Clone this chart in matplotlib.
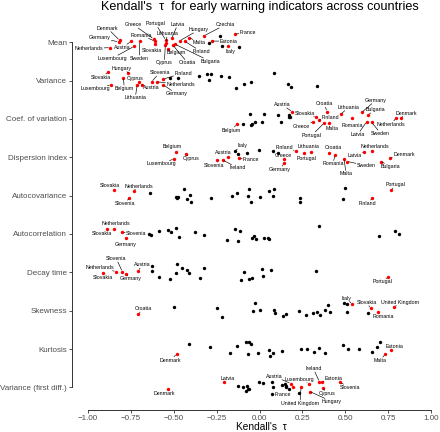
import matplotlib.pyplot as plt
import numpy as np

plt.rcParams['font.family'] = ['Liberation Sans', 'DejaVu Sans']

indicators = ["Mean", "Variance", "Coef. of variation", "Dispersion index",
              "Autocovariance", "Autocorrelation", "Decay time", "Skewness",
              "Kurtosis", "Variance (first diff.)"]

# (country, Kendall's tau, vertical jitter as fraction of row spacing, + = down)
# red = significant, black = not significant
mean_sig = [("Netherlands", -0.872, 0.14), ("Denmark", -0.816, -0.05), ("Germany", -0.822, -0.01),
            ("Austria", -0.749, -0.02), ("Luxembourg", -0.732, 0.11), ("Sweden", -0.699, -0.02),
            ("Greece", -0.618, -0.09), ("Romania", -0.612, -0.03), ("Slovakia", -0.609, 0.05),
            ("Portugal", -0.547, -0.06), ("Lithuania", -0.544, 0.01), ("Cyprus", -0.549, 0.07),
            ("Latvia", -0.512, -0.10), ("Belgium", -0.532, 0.17), ("Croatia", -0.506, 0.07),
            ("Bulgaria", -0.493, 0.05), ("Hungary", -0.464, -0.04), ("Finland", -0.434, -0.02),
            ("Malta", -0.409, -0.12), ("Czechia", -0.322, -0.17), ("Estonia", -0.279, -0.03),
            ("France", -0.143, -0.21), ("Italy", -0.185, 0.10)]
mean_ns = [("", -0.230, -0.16), ("", -0.293, 0.01), ("", -0.220, 0.10), ("", -0.120, 0.12)]

var_sig = [("Slovakia", -0.882, -0.22), ("Hungary", -0.765, -0.21), ("Luxembourg", -0.866, 0.11),
           ("Belgium", -0.794, -0.08), ("Lithuania", -0.713, 0.11), ("Cyprus", -0.701, 0.03),
           ("Austria", -0.687, 0.11), ("Slovenia", -0.629, 0.03), ("Netherlands", -0.599, 0.03),
           ("Germany", -0.561, 0.11), ("Finland", -0.561, -0.04)]
var_ns = [("", -0.522, -0.08), ("", -0.477, -0.06), ("", -0.353, -0.12), ("", -0.304, -0.17),
          ("", -0.283, -0.17), ("", -0.296, -0.02), ("", -0.226, -0.12), ("", -0.178, -0.09),
          ("", -0.137, 0.19), ("", -0.089, 0.09), ("", -0.051, 0.04), ("", 0.083, -0.19),
          ("", 0.168, 0.09), ("", 0.184, 0.17), ("", 0.335, 0.14)]

cv_sig = [("Belgium", -0.133, 0.14), ("Austria", 0.190, -0.19), ("Slovakia", 0.329, -0.04),
          ("Greece", 0.314, 0.08), ("Finland", 0.349, 0.03), ("Croatia", 0.392, -0.19),
          ("Portugal", 0.376, 0.11), ("Malta", 0.407, 0.10), ("Lithuania", 0.473, -0.12),
          ("Romania", 0.539, -0.02), ("Germany", 0.596, -0.17), ("Bulgaria", 0.634, -0.11),
          ("Latvia", 0.625, 0.07), ("Sweden", 0.654, 0.09), ("Netherlands", 0.796, -0.02),
          ("Denmark", 0.825, -0.02)]
cv_ns = [("", -0.055, -0.14), ("", -0.098, 0.14), ("", -0.051, 0.16), ("", -0.042, 0.14),
         ("", -0.024, 0.08), ("", 0.013, 0.08), ("", 0.026, -0.14), ("", 0.106, -0.10),
         ("", 0.124, 0.07), ("", 0.170, -0.10), ("", 0.174, -0.06), ("", 0.178, -0.04)]

di_sig = [("Belgium", -0.487, -0.15), ("Luxembourg", -0.499, 0.04), ("Cyprus", -0.429, -0.09),
          ("Slovenia", -0.250, 0.08), ("Ireland", -0.215, 0.07), ("Austria", -0.182, -0.02),
          ("France", -0.118, 0.03), ("Greece", 0.143, 0.05), ("Germany", 0.143, 0.16),
          ("Finland", 0.211, -0.16), ("Portugal", 0.258, -0.10), ("Lithuania", 0.300, -0.15),
          ("Croatia", 0.407, -0.12), ("Romania", 0.440, -0.06), ("Malta", 0.493, 0.04),
          ("Sweden", 0.512, 0.11), ("Latvia", 0.609, -0.15), ("Netherlands", 0.658, -0.16),
          ("Bulgaria", 0.708, 0.11), ("Denmark", 0.761, 0.01)]
di_ns = [("Italy", -0.143, -0.17), ("", -0.124, -0.08), ("", -0.075, -0.10), ("", -0.005, -0.19),
         ("", 0.077, -0.16), ("", 0.110, -0.12)]

acv_sig = [("Slovakia", -0.848, -0.15), ("Slovenia", -0.759, 0.05), ("Netherlands", -0.734, -0.12),
           ("Portugal", 0.767, -0.15), ("Finland", 0.658, 0.07)]
acv_ns = [("", -0.638, -0.06), ("", -0.489, 0.03), ("", -0.483, 0.05), ("", -0.473, 0.03),
          ("", -0.442, -0.16), ("", -0.424, 0.09), ("", -0.405, -0.02), ("", -0.399, 0.16),
          ("", -0.283, 0.05), ("", -0.160, 0.01), ("", -0.131, -0.06), ("", -0.067, 0.01),
          ("", -0.063, -0.17), ("", -0.050, 0.16), ("", 0.001, 0.04), ("", 0.057, -0.12),
          ("", 0.080, 0.01), ("", 0.085, -0.16), ("", 0.234, 0.05), ("", 0.236, 0.16),
          ("", 0.489, 0.08), ("", 0.497, -0.19)]

acf_sig = [("Slovakia", -0.889, -0.12), ("Netherlands", -0.847, -0.12), ("Slovenia", -0.800, -0.04),
           ("Germany", -0.778, 0.11)]
acf_ns = [("", -0.644, 0.00), ("", -0.633, 0.03), ("", -0.584, -0.07), ("", -0.532, -0.10),
          ("", -0.518, -0.05), ("", -0.487, -0.16), ("", -0.471, 0.09), ("", -0.378, -0.06),
          ("", -0.324, 0.03), ("", -0.190, 0.15), ("", -0.143, -0.13), ("", -0.127, 0.18),
          ("", -0.114, -0.08), ("", -0.042, 0.11), ("", -0.030, 0.05), ("", -0.020, 0.14),
          ("", 0.028, 0.10), ("", 0.051, 0.10), ("", 0.054, 0.13), ("", 0.347, -0.21),
          ("", 0.699, 0.05), ("", 0.790, -0.09), ("", 0.812, 0.01)]

dt_sig = [("Slovakia", -0.911, 0.01), ("Netherlands", -0.837, -0.02), ("Slovenia", -0.800, -0.02),
          ("Germany", -0.778, 0.04), ("Austria", -0.707, -0.04), ("Portugal", 0.748, 0.12)]
dt_ns = [("", -0.629, -0.17), ("", -0.629, -0.04), ("", -0.584, 0.11), ("", -0.520, 0.17),
         ("", -0.489, 0.01), ("", -0.483, -0.21), ("", -0.454, -0.10), ("", -0.424, -0.06),
         ("", -0.411, 0.02), ("", -0.349, 0.14), ("", -0.324, -0.11), ("", -0.108, 0.19),
         ("", -0.089, 0.00), ("", -0.063, 0.18), ("", -0.042, 0.16), ("", 0.015, -0.09),
         ("", 0.019, 0.10), ("", 0.069, -0.06), ("", 0.329, -0.04)]

sk_sig = [("Croatia", -0.707, 0.08), ("Italy", 0.538, -0.17), ("Slovakia", 0.648, -0.06),
          ("Romania", 0.693, 0.04), ("United Kingdom", 0.786, -0.09)]
sk_ns = [("", -0.500, -0.09), ("", -0.250, -0.08), ("", -0.220, 0.17), ("", -0.040, 0.00),
         ("", -0.024, -0.19), ("", 0.003, -0.02), ("", 0.086, -0.02), ("", 0.090, 0.05),
         ("", 0.139, 0.13), ("", 0.155, 0.09), ("", 0.232, 0.01), ("", 0.271, 0.12),
         ("", 0.314, 0.05), ("", 0.335, 0.03), ("", 0.353, 0.10), ("", 0.382, -0.03),
         ("", 0.398, -0.15), ("", 0.411, 0.04), ("", 0.491, -0.20), ("", 0.512, -0.17),
         ("", 0.508, 0.03), ("", 0.631, 0.05)]

ku_sig = [("Denmark", -0.483, 0.13), ("Estonia", 0.765, 0.03), ("Malta", 0.732, 0.14)]
ku_ns = [("", -0.411, -0.13), ("", -0.289, -0.05), ("", -0.170, 0.11), ("", -0.133, -0.09),
         ("", -0.080, -0.19), ("", -0.065, 0.14), ("", -0.061, -0.18), ("", -0.051, -0.13),
         ("", -0.009, 0.10), ("", 0.054, 0.03), ("", 0.061, 0.18), ("", 0.080, 0.11),
         ("", 0.131, 0.05), ("", 0.240, 0.00), ("", 0.279, 0.00), ("", 0.316, 0.07),
         ("", 0.347, -0.02), ("", 0.380, 0.10), ("", 0.487, -0.11), ("", 0.518, 0.00),
         ("", 0.578, 0.00), ("", 0.658, 0.09), ("", 0.687, -0.04), ("", 0.703, -0.18)]

vd_sig = [("Denmark", -0.532, 0.04), ("Latvia", -0.209, -0.13), ("Austria", 0.182, -0.10),
          ("", 0.197, 0.00), ("United Kingdom", 0.242, 0.00), ("Luxembourg", 0.287, -0.10),
          ("Hungary", 0.294, 0.11), ("Ireland", 0.349, -0.15), ("Estonia", 0.363, -0.15),
          ("Cyprus", 0.369, 0.01), ("Slovenia", 0.469, -0.13)]
vd_ns = [("", -0.124, -0.04), ("", -0.094, 0.00), ("", -0.080, 0.09), ("", -0.071, -0.03),
         ("", -0.065, 0.03), ("", -0.059, 0.05), ("", -0.001, -0.15), ("", 0.022, -0.12),
         ("", 0.071, -0.15), ("", 0.077, 0.00), ("", 0.129, -0.06), ("", 0.149, -0.08),
         ("", 0.153, -0.03), ("", 0.155, 0.00), ("", 0.170, 0.05), ("", 0.232, 0.14),
         ("France", 0.073, 0.18)]

rows = [(mean_sig, mean_ns), (var_sig, var_ns), (cv_sig, cv_ns), (di_sig, di_ns),
        (acv_sig, acv_ns), (acf_sig, acf_ns), (dt_sig, dt_ns), (sk_sig, sk_ns),
        (ku_sig, ku_ns), (vd_sig, vd_ns)]

# label placement (pixel offset of label centre from its point, like ggrepel)
nudges = [
    {"Netherlands": (-21, -1), "Denmark": (-12, 12), "Germany": (-19, 4), "Austria": (-9, -6),
     "Luxembourg": (-22, -12), "Sweden": (0, -17), "Greece": (-20, 14), "Romania": (-13, 6),
     "Slovakia": (-3, -6), "Portugal": (-10, 16), "Lithuania": (1, 9), "Cyprus": (-1, -18),
     "Latvia": (6, 14), "Belgium": (8, -4), "Croatia": (15, -18), "Bulgaria": (35, -17),
     "Hungary": (19, 11), "Finland": (16, -10), "Malta": (10, -5), "Czechia": (21, 11),
     "Estonia": (17, 0), "France": (13, 2), "Italy": (3, -5)},
    {"Slovakia": (-7, -5), "Hungary": (-7, 4), "Luxembourg": (-16, -4), "Belgium": (1, -11),
     "Lithuania": (-2, -13), "Cyprus": (-4, 3), "Austria": (10, -3), "Slovenia": (8, 9),
     "Netherlands": (24, -3), "Germany": (13, -9), "Finland": (20, 6)},
    {"Belgium": (-5, -6), "Austria": (-10, 7), "Slovakia": (-11, 4), "Greece": (-12, -4),
     "Finland": (11, 3), "Croatia": (-2, 8), "Portugal": (-12, -12), "Malta": (3, -6),
     "Lithuania": (8, 7), "Romania": (0, -7), "Germany": (14, 12), "Bulgaria": (7, 5),
     "Latvia": (-9, -13), "Sweden": (9, -11), "Netherlands": (-5, -6), "Denmark": (5, 5)},
    {"Belgium": (-4, 5), "Luxembourg": (-12, -5), "Cyprus": (5, -5), "Slovenia": (-3, -5),
     "Ireland": (15, -8), "Austria": (-5, 4), "France": (12, -1), "Greece": (-1, 4),
     "Germany": (-4, -6), "Finland": (-11, 4), "Portugal": (3, -5), "Lithuania": (-2, 5),
     "Croatia": (4, 5), "Romania": (-2, -9), "Malta": (2, -15), "Sweden": (19, -4),
     "Latvia": (-9, -4), "Netherlands": (3, 5), "Bulgaria": (10, -5), "Denmark": (14, 3),
     "Italy": (7, 5)},
    {"Slovakia": (-4, 4), "Slovenia": (-4, -6), "Netherlands": (5, 5), "Portugal": (5, 5),
     "Finland": (-5, -5)},
    {"Slovakia": (-5, -4), "Netherlands": (2, 6), "Slovenia": (14, -1), "Germany": (0, -6)},
    {"Slovakia": (0, -5), "Netherlands": (-16, 4), "Slovenia": (-6, 13), "Germany": (5, -5),
     "Austria": (4, 6), "Portugal": (-5, -5)},
    {"Croatia": (5, 5), "Italy": (-5, 6), "Slovakia": (-4, 6), "Romania": (5, -4),
     "United Kingdom": (6, 5)},
    {"Denmark": (-6, -6), "Estonia": (4, 4), "Malta": (-5, -6)},
    {"Denmark": (-4, -5), "Latvia": (4, 4), "Austria": (-16, 7), "United Kingdom": (-1, -16),
     "Luxembourg": (-9, 4), "Hungary": (22, -10), "Ireland": (-6, 13), "Estonia": (12, 3),
     "Cyprus": (4, -6), "Slovenia": (10, -5), "France": (11, 0)},
]

fig = plt.figure(figsize=(4.4, 4.32), dpi=100)
ax = fig.add_axes([72 / 440, 1 - 410 / 432, (435 - 72) / 440, (410 - 20) / 432])

for i, (sig, ns) in enumerate(rows):
    for pts, col in ((ns, 'black'), (sig, 'red')):
        x = [p[1] for p in pts]
        y = [i + p[2] for p in pts]
        ax.scatter(x, y, s=6, color=col, linewidths=0, zorder=3)
        for name, tau, jit in pts:
            if not name:
                continue
            dx, dy = nudges[i].get(name, (0, 5))
            arrow = None
            if np.hypot(dx, dy) > 7:
                arrow = dict(arrowstyle='-', lw=0.45, color='black', shrinkA=0.3, shrinkB=1.2)
            ax.annotate(name, (tau, i + jit), xytext=(dx, dy), textcoords='offset pixels',
                        fontsize=3.8, ha='center', va='center', zorder=4,
                        bbox=dict(boxstyle='square,pad=0.1', fc='none', ec='none'),
                        arrowprops=arrow)

ax.set_xlim(-1.0933, 1.0233)
ax.set_ylim(9.59, -0.58)

ax.spines['top'].set_visible(False)
ax.spines['right'].set_visible(False)
ax.spines['left'].set_bounds(0, 9)
ax.spines['bottom'].set_bounds(-1, 1)
for s in ('left', 'bottom'):
    ax.spines[s].set_linewidth(0.7)
    ax.spines[s].set_color('#333333')

ax.set_yticks(range(len(indicators)), indicators)
xt = np.arange(-1, 1.01, 0.25)
ax.set_xticks(xt, ['\u2212%.2f' % abs(v) if v < 0 else '%.2f' % v for v in xt])
ax.tick_params(labelsize=5.8, labelcolor='#4d4d4d', length=2.5, width=0.6,
               color='#333333', pad=1)

fig.text(260 / 440, 1 - 7 / 432, "Kendall's  \u03c4  for early warning indicators across countries",
         ha='center', va='center', fontsize=9.1)
fig.text(261 / 440, 1 - 427 / 432, "Kendall's  \u03c4", ha='center', va='center', fontsize=7.3)

plt.savefig('out.png', dpi=100)
